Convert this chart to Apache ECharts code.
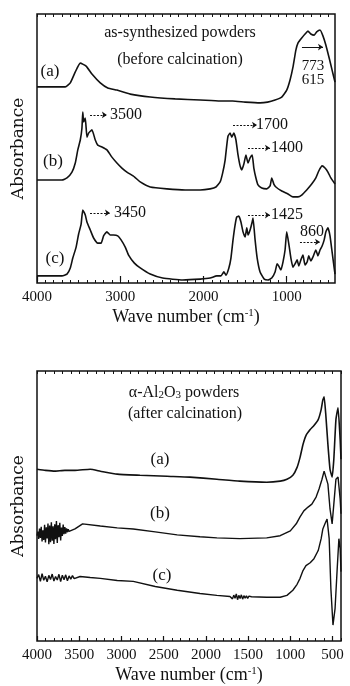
<!DOCTYPE html>
<html>
<head>
<meta charset="utf-8">
<script src="https://cdn.jsdelivr.net/npm/echarts@6/dist/echarts.min.js"></script>
<style>
  html, body { margin: 0; padding: 0; background: #fff; }
  #chart { width: 350px; height: 686px; }
</style>
</head>
<body>
<div id="chart"></div>
<script>
// ---------- Upper panel: as-synthesized powders (before calcination) ----------
const topTickLabels = [1000, 2000, 3000, 4000];

const topA_wn  = [4000,3660,3600,3540,3480,3410,3340,3240,3150,3040,2880,2640,2340,2040,1800,1650,1500,1320,1230,1140,1060,1000,960,925,890,865,820,780,745,710,670,640,600,565,530,490,455,420];
const topA_abs = [72.7,72.7,74.2,78.3,81.6,80.5,77.5,74.2,72.3,71.5,70.0,68.9,68.2,67.8,67.4,67.4,67.0,66.7,67.0,67.8,68.9,71.5,75.3,80.1,86.5,89.1,91.0,92.5,93.6,92.5,92.1,93.3,94.0,91.8,88.4,83.5,79.0,74.5];

const topB_wn  = [4000,3700,3640,3580,3540,3510,3480,3460,3450,3440,3420,3400,3380,3340,3300,3270,3220,3160,3100,3040,2980,2920,2830,2760,2640,2440,2220,2040,1920,1850,1800,1770,1740,1720,1705,1680,1660,1635,1610,1585,1560,1540,1515,1490,1465,1440,1415,1395,1370,1345,1300,1240,1200,1180,1155,1130,1060,985,925,865,820,760,700,650,615,575,540,505,470,420];
const topB_abs = [37.8,37.8,38.6,40.8,44.2,49.1,52.8,57.3,63.3,59.6,61.0,53.9,55.4,56.6,52.8,50.9,50.2,49.1,46.4,44.2,42.3,40.8,39.0,37.1,35.2,34.5,34.1,34.1,34.5,35.2,37.1,40.4,45.3,50.9,54.3,55.4,53.9,55.4,52.8,47.2,43.1,41.6,43.8,47.2,44.2,46.1,47.2,42.3,38.6,36.0,34.8,34.5,35.6,38.6,36.3,35.2,33.7,32.6,31.5,31.5,32.2,34.1,36.3,38.6,41.2,43.1,42.3,40.8,38.6,36.3];

const topC_wn  = [4000,3700,3640,3600,3570,3530,3500,3470,3450,3420,3400,3360,3320,3270,3230,3200,3160,3120,3080,3030,2990,2940,2900,2830,2760,2640,2490,2250,2040,1920,1840,1790,1755,1730,1695,1670,1645,1620,1600,1575,1550,1525,1500,1480,1465,1440,1415,1405,1380,1355,1320,1270,1225,1180,1140,1115,1095,1070,1045,1020,1000,975,950,925,900,875,855,830,805,780,755,735,710,685,650,625,600,575,550,530,505,480,455,430,420];
const topC_abs = [1.9,1.9,2.6,4.9,8.6,12.7,17.6,21.3,26.6,24.7,22.1,19.1,16.1,14.2,14.2,16.9,18.4,17.2,17.2,16.9,15.4,12.7,9.7,6.7,4.9,2.6,1.1,0.4,0.7,1.1,1.9,1.9,3.4,2.2,4.9,8.6,15.4,21.0,24.0,24.3,22.1,18.4,16.5,19.9,17.2,19.1,22.1,23.6,15.4,8.6,3.4,0.7,0.4,1.1,3.4,6.4,5.6,4.1,7.1,11.6,18.4,13.9,8.6,5.2,6.4,7.9,5.6,7.9,9.7,6.0,7.1,9.4,7.5,9.0,11.6,9.4,11.6,13.1,15.4,18.4,19.9,16.9,10.9,4.9,2.6];

// peak annotations: text, label position [wn, abs], arrow [fromWn, toWn, abs]
const topPeakText  = ['3500', '1700', '1400', '3450', '1425', '860'];
const topPeakLabel = [[2931, 62.2], [1177, 58.4], [997, 49.8], [2883, 25.5], [997, 24.7], [696, 18.4]];
const topPeakArrow = [[3363, 3160, 62.2], [1645, 1357, 58.4], [1465, 1201, 49.8], [3363, 3123, 25.5], [1465, 1201, 24.7], [841, 600, 14.6]];
const topBandText  = ['773', '615'];
const topBandLabel = [[684, 80.5], [684, 75.3]];
const topBandArrow = [817, 564, 87.6];

const curveNames = ['(a)', '(b)', '(c)'];
const topCurveLabel = [[3844, 78.3], [3808, 44.6], [3784, 8.6]];

// ---------- Lower panel: α-Al2O3 powders (after calcination) ----------
const botTickLabels = [500, 1000, 1500, 2000, 2500, 3000, 3500, 4000];

const botA_wn  = [4000,3900,3790,3670,3550,3370,3250,3050,2780,2460,2190,1870,1600,1280,1120,1040,970,920,885,850,815,765,720,670,635,615,600,580,555,530,505,485,460,435,410,400];
const botA_abs = [63.6,63.2,62.9,63.2,63.2,63.6,62.9,61.8,61.4,61.0,60.7,59.9,59.2,58.8,59.2,59.9,61.4,64.3,68.0,72.8,76.1,78.3,79.8,82.0,85.7,89.3,90.4,83.8,72.8,63.6,60.7,67.3,82.0,86.4,74.6,67.3];

const botB_wn  = [4000,3990,3980,3970,3960,3950,3940,3930,3920,3910,3900,3890,3880,3870,3860,3850,3840,3830,3820,3810,3800,3790,3780,3770,3760,3750,3740,3730,3720,3710,3700,3690,3680,3670,3660,3650,3640,3630,3620,3610,3600,
                  3550,3460,3250,3050,2860,2600,2340,2070,1870,1600,1280,1120,1000,930,885,840,790,745,695,660,625,600,580,555,530,505,485,460,435,410,400];
const botB_abs = [39.0,40.5,37.8,41.6,38.2,42.3,36.9,41.0,37.4,43.0,36.5,42.1,38.0,43.5,35.8,42.8,36.6,44.0,37.1,42.5,35.9,43.2,37.7,44.4,36.3,42.9,38.4,43.8,37.2,42.0,38.9,43.1,39.6,42.2,39.8,41.7,40.3,41.4,40.6,41.2,41.0,
                  41.5,43.4,42.6,41.9,41.5,40.4,39.3,38.6,38.2,37.9,38.2,39.0,40.8,43.4,46.0,48.2,49.6,50.7,53.3,56.3,59.9,62.9,63.6,58.1,48.9,43.4,50.7,59.9,60.7,52.6,47.1];

const botC_wn  = [4000,3980,3960,3940,3920,3900,3880,3860,3840,3820,3800,3780,3760,3740,3720,3700,3680,3660,3640,3620,3600,3580,3560,3540,
                  3490,3370,3250,3050,2860,2600,2340,2070,1870,1715,
                  1700,1685,1670,1655,1640,1625,1610,1595,1580,1565,1550,1535,1520,1505,1490,1475,1460,
                  1440,1280,1120,1040,970,920,885,850,815,765,720,670,635,615,590,565,540,520,495,470,445,425,410,400];
const botC_abs = [23.2,24.6,22.1,24.9,22.5,24.0,21.9,24.3,22.8,24.8,22.2,23.9,22.6,24.7,22.0,24.4,22.7,24.5,22.3,24.1,22.9,24.2,23.1,23.8,
                  23.9,23.5,23.2,22.4,22.1,20.2,18.8,17.6,16.9,16.5,
                  17.2,15.6,17.0,15.8,17.4,15.3,16.9,15.7,17.1,15.5,16.8,15.9,16.7,15.8,16.6,16.0,16.4,
                  16.2,16.2,16.2,16.9,18.8,21.0,23.2,26.1,27.9,29.0,30.5,33.5,37.9,41.5,43.4,45.2,37.9,19.5,5.9,12.1,26.8,37.9,34.2,25.7];

const botCurveLabel = [[2543, 67.3], [2543, 47.1], [2520, 24.3]];

// ---------- shared styling ----------
const SERIF = '"Liberation Serif", "DejaVu Serif", serif';
const INK = '#111';

function pairs(xs, ys) { return xs.map((x, i) => [x, ys[i]]); }
function minorTicks(lo, hi) { const v = []; for (let t = lo; t <= hi; t += 100) v.push(t); return v; }

function xAxesFor(gridIndex, min, labels) {
  const minor = minorTicks(Math.ceil(min / 100) * 100, 4000);
  const base = {
    gridIndex, type: 'value', inverse: true, min, max: 4000,
    axisLine: { show: false }, splitLine: { show: false }
  };
  return [
    Object.assign({}, base, {
      position: 'bottom',
      axisTick: { show: true, inside: true, length: 5, customValues: labels, lineStyle: { color: INK, width: 1.2 } },
      axisLabel: { show: true, customValues: labels, formatter: v => String(v), margin: 7, color: INK, fontFamily: SERIF, fontSize: 15 },
      name: 'Wave number (cm{sup|-1})', nameLocation: 'middle', nameGap: 25,
      nameTextStyle: {
        color: INK, fontFamily: SERIF, fontSize: 18,
        rich: { sup: { fontSize: 11, fontFamily: SERIF, color: INK, verticalAlign: 'top', lineHeight: 10, padding: [0, 0, 8, 0] } }
      }
    }),
    Object.assign({}, base, {
      position: 'bottom',
      axisTick: { show: true, inside: true, length: 3, customValues: minor, lineStyle: { color: INK, width: 1 } },
      axisLabel: { show: false }
    }),
    Object.assign({}, base, {
      position: 'top',
      axisTick: { show: true, inside: true, length: 3, customValues: minor, lineStyle: { color: INK, width: 1 } },
      axisLabel: { show: false }
    })
  ];
}

function yAxisFor(gridIndex, min) {
  return {
    gridIndex, type: 'value', min, max: 100,
    axisLine: { show: false }, axisTick: { show: false }, axisLabel: { show: false }, splitLine: { show: false },
    name: 'Absorbance', nameLocation: 'middle', nameGap: 10,
    nameTextStyle: { color: INK, fontFamily: '"DejaVu Serif", serif', fontSize: 17 }
  };
}

function textPoints(texts, coords, size) {
  return {
    symbol: 'circle', symbolSize: 0, silent: true, animation: false,
    label: { show: true, position: 'inside', formatter: p => p.name, color: INK, fontFamily: SERIF, fontSize: size },
    data: texts.map((t, i) => ({ name: t, coord: coords[i] }))
  };
}

function spectrum(name, xs, ys, xi, yi, extra) {
  return Object.assign({
    name, type: 'line', xAxisIndex: xi, yAxisIndex: yi,
    data: pairs(xs, ys), showSymbol: false, symbol: 'none', smooth: 0.15,
    lineStyle: { color: INK, width: 1.6 }, animation: false, silent: true, z: 3
  }, extra || {});
}

function arrowLines(list, dashed) {
  return {
    symbol: ['none', 'arrow'], symbolSize: 5, silent: true, animation: false,
    label: { show: false },
    itemStyle: { color: INK },
    lineStyle: { color: INK, width: 1, type: dashed ? [2, 1.5] : 'solid' },
    data: list.map(a => [{ coord: [a[0], a[2]] }, { coord: [a[1], a[2]] }])
  };
}

const titleRich = {
  n:   { fontSize: 16, fontFamily: SERIF, fill: INK, lineHeight: 16, verticalAlign: 'top' },
  sub: { fontSize: 11, fontFamily: SERIF, fill: INK, lineHeight: 11, verticalAlign: 'bottom', padding: [10, 0, 0, 0] }
};

const option = {
  backgroundColor: '#fff',
  animation: false,
  grid: [
    { left: 37, top: 14, width: 298, height: 269, show: true, borderColor: INK, borderWidth: 1.5, containLabel: false },
    { left: 37, top: 371, width: 304, height: 272, show: true, borderColor: INK, borderWidth: 1.5, containLabel: false }
  ],
  xAxis: [].concat(xAxesFor(0, 420, topTickLabels), xAxesFor(1, 400, botTickLabels)),
  yAxis: [yAxisFor(0, -0.75), yAxisFor(1, 0)],
  graphic: [
    { type: 'text', x: 180, y: 33, silent: true,
      style: { text: 'as-synthesized powders', fill: INK, font: '16px ' + SERIF, align: 'center', verticalAlign: 'middle' } },
    { type: 'text', x: 180, y: 60, silent: true,
      style: { text: '(before calcination)', fill: INK, font: '16px ' + SERIF, align: 'center', verticalAlign: 'middle' } },
    { type: 'text', x: 184, y: 393, silent: true,
      style: {
        text: '{n|α-Al}{sub|2}{n|O}{sub|3}{n| powders}', fill: INK, font: '16px ' + SERIF,
        align: 'center', verticalAlign: 'middle', rich: titleRich
      } },
    { type: 'text', x: 185, y: 414, silent: true,
      style: { text: '(after calcination)', fill: INK, font: '16px ' + SERIF, align: 'center', verticalAlign: 'middle' } }
  ],
  series: [
    spectrum('as-synthesized (a)', topA_wn, topA_abs, 0, 0, {
      markLine: arrowLines([topBandArrow], false),
      markPoint: {
        symbol: 'circle', symbolSize: 0, silent: true, animation: false,
        label: { show: true, position: 'inside', formatter: p => p.name, color: INK, fontFamily: SERIF, fontSize: 15 },
        data: topBandText.map((t, i) => ({ name: t, coord: topBandLabel[i] }))
          .concat(curveNames.map((t, i) => ({ name: t, coord: topCurveLabel[i], label: { fontSize: 17 } })))
      }
    }),
    spectrum('as-synthesized (b)', topB_wn, topB_abs, 0, 0, {
      markLine: arrowLines(topPeakArrow, true),
      markPoint: textPoints(topPeakText, topPeakLabel, 16)
    }),
    spectrum('as-synthesized (c)', topC_wn, topC_abs, 0, 0),
    spectrum('calcined (a)', botA_wn, botA_abs, 3, 1, {
      markPoint: textPoints(curveNames, botCurveLabel, 17)
    }),
    spectrum('calcined (b)', botB_wn, botB_abs, 3, 1, { smooth: false, lineStyle: { color: INK, width: 1.4 } }),
    spectrum('calcined (c)', botC_wn, botC_abs, 3, 1, { smooth: false, lineStyle: { color: INK, width: 1.4 } })
  ]
};

const chart = echarts.init(document.getElementById('chart'), null, { renderer: 'canvas' });
chart.setOption(option);
</script>
</body>
</html>
